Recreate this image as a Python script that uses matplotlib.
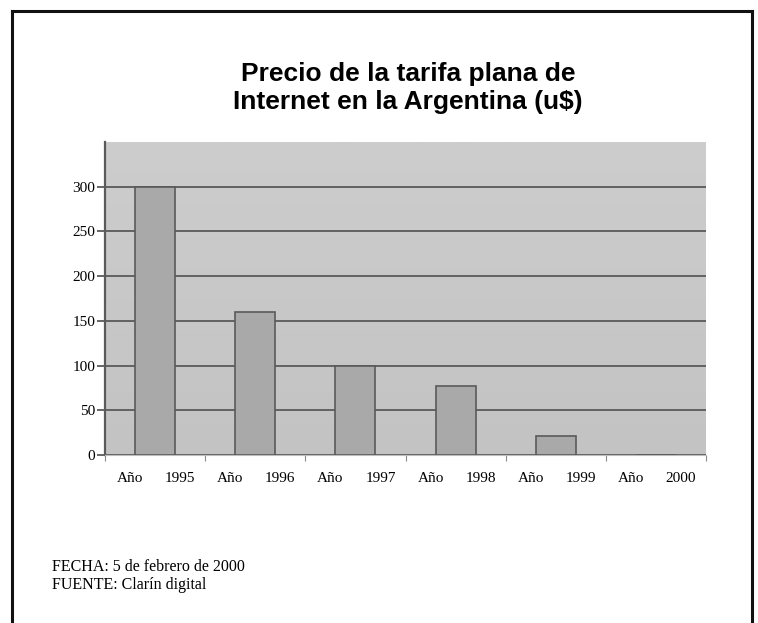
import matplotlib
matplotlib.use("Agg")
import matplotlib.pyplot as plt
import numpy as np
from matplotlib.lines import Line2D

years = ["1995", "1996", "1997", "1998", "1999", "2000"]
prices = [300, 160, 100, 77, 21, 0]
yticks = [0, 50, 100, 150, 200, 250, 300]

fig = plt.figure(figsize=(7.58, 6.23), dpi=100)
W, H = 758, 623

# outer frame (left, top, right; open at bottom)
for xs, ys in [([12, 12], [0, 612]), ([12, 752], [612, 612]), ([752, 752], [612, 0])]:
    fig.add_artist(Line2D([x / W for x in xs], [y / H for y in ys], color="#111111", lw=2.2))

fig.text(408 / W, 1 - 74 / H, "Precio de la tarifa plana de", ha="center", va="center",
         fontsize=19, fontweight="bold", family="Liberation Sans")
fig.text(408 / W, 1 - 102 / H, "Internet en la Argentina (u$)", ha="center", va="center",
         fontsize=19, fontweight="bold", family="Liberation Sans")

ax = fig.add_axes([105 / W, 1 - 455 / H, (706 - 105) / W, (455 - 142) / H])
ax.set_facecolor("#c6c6c6")
# subtle vertical gradient background
grad = np.linspace(0, 1, 256).reshape(-1, 1)
ax.imshow(grad, extent=(-0.5, len(years) - 0.5, 0, 350), aspect="auto",
          cmap=matplotlib.colors.LinearSegmentedColormap.from_list("g", ["#c3c3c3", "#cdcdcd"]),
          origin="lower", zorder=0)
x = list(range(len(years)))
ax.bar(x, prices, width=0.4, color="#a9a9a9", edgecolor="#5a5a5a", linewidth=1.2, zorder=3)
ax.set_xlim(-0.5, len(years) - 0.5)
ax.set_ylim(0, 350)
ax.set_yticks(yticks)
ax.set_yticklabels([str(v) for v in yticks], family="Liberation Serif", fontsize=11)
ax.yaxis.grid(True, color="#5a5a5a", linewidth=1.3, zorder=1)
ax.set_axisbelow(True)
ax.tick_params(axis="y", length=6, color="#5a5a5a", width=1.3, pad=1)
ax.set_xticks([i - 0.5 for i in range(len(years) + 1)])
ax.set_xticklabels([""] * (len(years) + 1))
ax.tick_params(axis="x", length=4, color="#8a8a8a", direction="out")
for i, yr in enumerate(years):
    ax.text(i - 0.25, -0.055, "Año", transform=ax.get_xaxis_transform(), ha="center", va="top",
            family="Liberation Serif", fontsize=11)
    ax.text(i + 0.25, -0.055, yr, transform=ax.get_xaxis_transform(), ha="center", va="top",
            family="Liberation Serif", fontsize=11)
for s in ["top", "right"]:
    ax.spines[s].set_visible(False)
ax.spines["left"].set_color("#5a5a5a")
ax.spines["left"].set_linewidth(1.6)
ax.spines["bottom"].set_color("#bdbdbd")

fig.text(52 / W, 1 - 567 / H, "FECHA: 5 de febrero de 2000", ha="left", va="center",
         family="Liberation Serif", fontsize=11.5)
fig.text(52 / W, 1 - 585 / H, "FUENTE: Clarín digital", ha="left", va="center",
         family="Liberation Serif", fontsize=11.5)

fig.savefig("out.png", dpi=100)
